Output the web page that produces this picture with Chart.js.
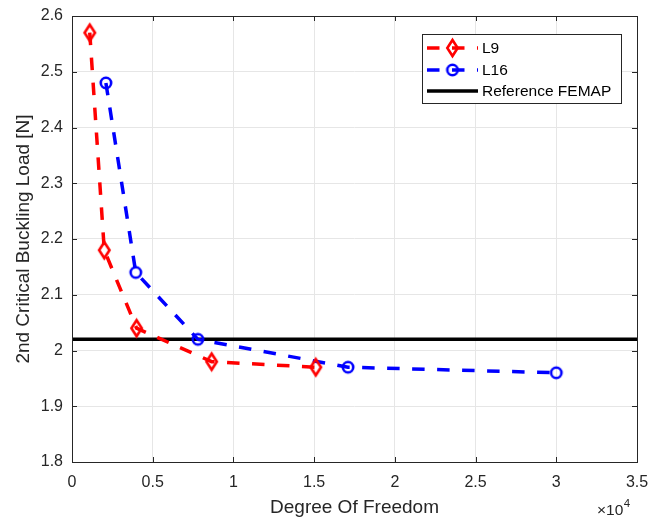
<!DOCTYPE html>
<html>
<head>
<meta charset="utf-8">
<script src="https://cdn.jsdelivr.net/npm/chart.js@4.4.1/dist/chart.umd.min.js"></script>
<style>
  html, body { margin: 0; padding: 0; background: #fff; }
  canvas { display: block; }
</style>
</head>
<body>
<canvas id="bucklingChart" width="649" height="520"></canvas>
<script>
// 2nd critical buckling load vs. degrees of freedom, L9 and L16 elements
var dofL9 = [1100, 2000, 4000, 8650, 15100];
var loadL9 = [2.57, 2.18, 2.04, 1.98, 1.97];
var dofL16 = [2100, 3950, 7800, 17100, 30000];
var loadL16 = [2.48, 2.14, 2.02, 1.97, 1.96];
var femapLoad = 2.02;
var femapDof = [0, 35000];

var xTicks = [0, 5000, 10000, 15000, 20000, 25000, 30000, 35000];
var yTicks = [1.8, 1.9, 2.0, 2.1, 2.2, 2.3, 2.4, 2.5, 2.6];

var axisColor = '#262626';
var fontFamily = '"Liberation Sans", Arial, Helvetica, sans-serif';
var dash = [12.5, 12.5];

function toPoints(xs, ys) {
    return xs.map(function (x, i) { return { x: x, y: ys[i] }; });
}

// hollow markers drawn once onto small canvases
function diamondMarker(color) {
    var c = document.createElement('canvas');
    c.width = 17; c.height = 22;
    var ctx = c.getContext('2d');
    ctx.strokeStyle = color;
    ctx.lineWidth = 2.6;
    ctx.beginPath();
    ctx.moveTo(8.5, 3);
    ctx.lineTo(13.7, 11);
    ctx.lineTo(8.5, 19);
    ctx.lineTo(3.3, 11);
    ctx.closePath();
    ctx.stroke();
    return c;
}

function circleMarker(color) {
    var c = document.createElement('canvas');
    c.width = 16; c.height = 16;
    var ctx = c.getContext('2d');
    ctx.strokeStyle = color;
    ctx.lineWidth = 2.6;
    ctx.beginPath();
    ctx.arc(8, 8, 5.2, 0, Math.PI * 2);
    ctx.stroke();
    return c;
}

var redDiamond = diamondMarker('#ff0000');
var blueCircle = circleMarker('#0000ff');

// box around the axes with inward tick marks on all four sides
var axesBox = {
    id: 'axesBox',
    afterDatasetsDraw: function (chart) {
        var ctx = chart.ctx, a = chart.chartArea;
        var xs = chart.scales.x, ys = chart.scales.y;
        var len = 5;
        ctx.save();
        ctx.strokeStyle = axisColor;
        ctx.lineWidth = 1;
        ctx.beginPath();
        xTicks.forEach(function (v) {
            var px = Math.round(xs.getPixelForValue(v)) + 0.5;
            ctx.moveTo(px, a.bottom); ctx.lineTo(px, a.bottom - len);
            ctx.moveTo(px, a.top); ctx.lineTo(px, a.top + len);
        });
        yTicks.forEach(function (v) {
            var py = Math.round(ys.getPixelForValue(v)) + 0.5;
            ctx.moveTo(a.left, py); ctx.lineTo(a.left + len, py);
            ctx.moveTo(a.right, py); ctx.lineTo(a.right - len, py);
        });
        ctx.stroke();
        ctx.strokeRect(Math.round(a.left) + 0.5, Math.round(a.top) + 0.5,
            Math.round(a.right - a.left), Math.round(a.bottom - a.top));

        // x10^4 exponent under the right end of the x axis
        ctx.fillStyle = axisColor;
        ctx.textBaseline = 'alphabetic';
        ctx.textAlign = 'left';
        ctx.font = '15.5px ' + fontFamily;
        ctx.fillText('\u00d710', 597, 515);
        var w = ctx.measureText('\u00d710').width;
        ctx.font = '11.5px ' + fontFamily;
        ctx.fillText('4', 597 + w + 0.5, 507);
        ctx.restore();
    }
};

// legend box in the upper right of the axes
var boxLegend = {
    id: 'boxLegend',
    afterDraw: function (chart) {
        var ctx = chart.ctx;
        var rows = [48, 70, 91];
        ctx.save();
        ctx.fillStyle = '#ffffff';
        ctx.fillRect(422, 34, 199, 69);
        ctx.strokeStyle = axisColor;
        ctx.lineWidth = 1;
        ctx.strokeRect(422.5, 34.5, 199, 69);
        chart.data.datasets.forEach(function (ds, i) {
            var y = rows[i];
            ctx.strokeStyle = ds.borderColor;
            ctx.lineWidth = ds.borderWidth;
            ctx.setLineDash(ds.borderDash || []);
            ctx.beginPath();
            ctx.moveTo(427, y);
            ctx.lineTo(478, y);
            ctx.stroke();
            ctx.setLineDash([]);
            if (ds.pointStyle instanceof HTMLCanvasElement) {
                var m = ds.pointStyle;
                ctx.drawImage(m, 452.5 - m.width / 2, y - m.height / 2);
            }
            ctx.fillStyle = '#000000';
            ctx.font = '15.5px ' + fontFamily;
            ctx.textAlign = 'left';
            ctx.textBaseline = 'middle';
            ctx.fillText(ds.label, 482, y + 1);
        });
        ctx.restore();
    }
};

new Chart(document.getElementById('bucklingChart'), {
    type: 'scatter',
    data: {
        datasets: [{
            label: 'L9',
            data: toPoints(dofL9, loadL9),
            showLine: true,
            borderColor: '#ff0000',
            borderWidth: 3.5,
            borderDash: dash,
            pointStyle: redDiamond,
            pointRadius: 6
        }, {
            label: 'L16',
            data: toPoints(dofL16, loadL16),
            showLine: true,
            borderColor: '#0000ff',
            borderWidth: 3.5,
            borderDash: dash,
            pointStyle: blueCircle,
            pointRadius: 6
        }, {
            label: 'Reference FEMAP',
            data: toPoints(femapDof, femapDof.map(function () { return femapLoad; })),
            showLine: true,
            borderColor: '#000000',
            borderWidth: 3.5,
            pointRadius: 0
        }]
    },
    options: {
        responsive: false,
        animation: false,
        layout: { padding: { top: 16, right: 12, left: 0, bottom: 0 } },
        plugins: {
            legend: { display: false },
            tooltip: { enabled: false }
        },
        scales: {
            x: {
                type: 'linear',
                min: 0,
                max: 35000,
                afterBuildTicks: function (scale) {
                    scale.ticks = xTicks.map(function (v) { return { value: v }; });
                },
                afterFit: function (scale) {
                    scale.height = 58;
                    scale.paddingLeft = 0;
                    scale.paddingRight = 0;
                },
                grid: { color: '#e6e6e6', drawTicks: false },
                border: { display: false },
                ticks: {
                    padding: 11,
                    color: axisColor,
                    font: { family: fontFamily, size: 16 },
                    maxRotation: 0,
                    callback: function (v) { return String(v / 10000); }
                },
                title: {
                    display: true,
                    text: 'Degree Of Freedom',
                    color: axisColor,
                    font: { family: fontFamily, size: 19 },
                    padding: { top: 0, bottom: 1 }
                }
            },
            y: {
                type: 'linear',
                min: 1.8,
                max: 2.6,
                afterBuildTicks: function (scale) {
                    scale.ticks = yTicks.map(function (v) { return { value: v }; });
                },
                afterFit: function (scale) {
                    scale.width = 72;
                    scale.paddingTop = 0;
                    scale.paddingBottom = 0;
                },
                grid: { color: '#e6e6e6', drawTicks: false },
                border: { display: false },
                ticks: {
                    padding: 9,
                    color: axisColor,
                    font: { family: fontFamily, size: 16 },
                    callback: function (v) { return String(Number(v.toFixed(1))); }
                },
                title: {
                    display: true,
                    text: '2nd Critical Buckling Load [N]',
                    color: axisColor,
                    font: { family: fontFamily, size: 19 },
                    padding: { top: 12, bottom: 0 }
                }
            }
        }
    },
    plugins: [axesBox, boxLegend]
});
</script>
</body>
</html>
